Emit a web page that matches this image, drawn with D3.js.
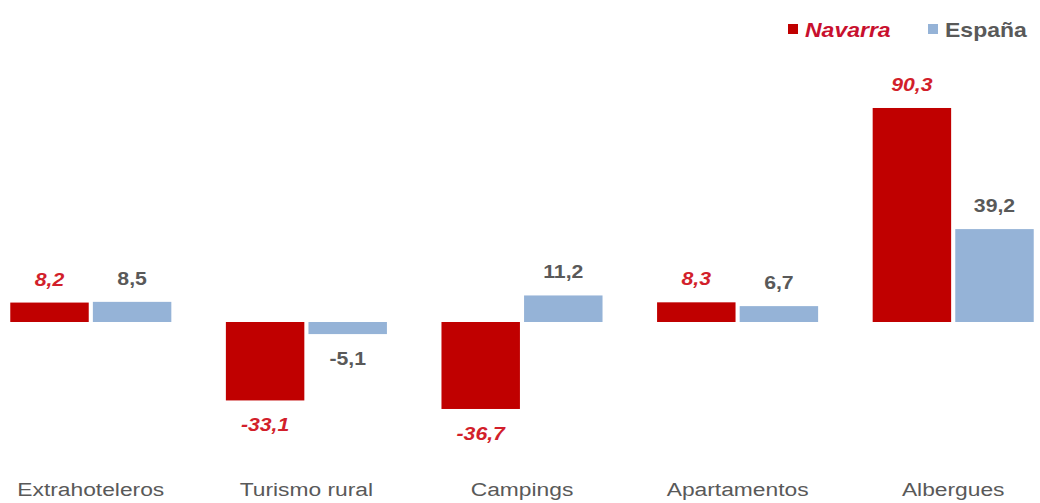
<!DOCTYPE html>
<html>
<head>
<meta charset="utf-8">
<script src="https://cdn.jsdelivr.net/npm/d3@7"></script>
<style>
  body { margin: 0; background: #fff; }
  svg { display: block; font-family: "Liberation Sans", Arial, sans-serif; }
</style>
</head>
<body>
<div id="chart"></div>
<script>
const categories = ['Extrahoteleros', 'Turismo rural', 'Campings', 'Apartamentos', 'Albergues'];
const series = ['Navarra', 'España'];
const navarra = [8.2, -33.1, -36.7, 8.3, 90.3];
const espana = [8.5, -5.1, 11.2, 6.7, 39.2];

const colors = { 'Navarra': '#c00000', 'España': '#95b3d7' };
const labelColors = { 'Navarra': '#d21f2b', 'España': '#595959' };

const width = 1040, height = 503;
const stretch = 1.18; // text in the source looks horizontally stretched

const svg = d3.select('#chart')
    .append('svg')
    .attr('width', width)
    .attr('height', height);

const rows = categories.map((c, i) => ({
    category: c,
    values: [
        { key: 'Navarra', value: navarra[i] },
        { key: 'España', value: espana[i] }
    ]
}));

const x0 = d3.scaleBand()
    .domain(categories)
    .range([-17, 1061])
    .paddingInner(0.253)
    .paddingOuter(0.1265);

const x1 = d3.scaleBand()
    .domain(series)
    .range([0, x0.bandwidth()])
    .paddingInner(0.05);

// zero line sits at y = 322
const y = d3.scaleLinear()
    .domain([-40, 100])
    .range([322 + 40 * 2.37, 322 - 100 * 2.37]);

// spanish decimal comma, plain hyphen for negatives
const fmt = v => d3.format('.1f')(v).replace('.', ',').replace('\u2212', '-');

const groups = svg.selectAll('g.group')
    .data(rows)
    .enter()
    .append('g')
    .attr('class', 'group')
    .attr('transform', d => `translate(${x0(d.category)},0)`);

groups.selectAll('rect')
    .data(d => d.values)
    .enter()
    .append('rect')
    .attr('x', d => x1(d.key))
    .attr('width', x1.bandwidth())
    .attr('y', d => y(Math.max(0, d.value)))
    .attr('height', d => Math.abs(y(d.value) - y(0)))
    .attr('fill', d => colors[d.key]);

// value labels
groups.selectAll('text.value')
    .data(d => d.values)
    .enter()
    .append('text')
    .attr('class', 'value')
    .attr('text-anchor', 'middle')
    .attr('transform', d => {
        const cx = x1(d.key) + x1.bandwidth() / 2;
        const cy = d.value >= 0 ? y(d.value) - 17 : y(d.value) + 31;
        return `translate(${cx},${cy}) scale(${stretch},1)`;
    })
    .attr('font-size', '18px')
    .attr('font-weight', 'bold')
    .attr('font-style', d => d.key === 'Navarra' ? 'italic' : 'normal')
    .attr('fill', d => labelColors[d.key])
    .text(d => fmt(d.value));

// category labels
svg.selectAll('text.cat')
    .data(categories)
    .enter()
    .append('text')
    .attr('class', 'cat')
    .attr('text-anchor', 'middle')
    .attr('transform', d => `translate(${x0(d) + x0.bandwidth() / 2},496) scale(1.2,1)`)
    .attr('font-size', '19px')
    .attr('fill', '#595959')
    .text(d => d);

// legend
const legend = svg.append('g').attr('class', 'legend');
const legendItems = [
    { key: 'Navarra', x: 788 },
    { key: 'España', x: 928 }
];
legendItems.forEach(item => {
    legend.append('rect')
        .attr('x', item.x)
        .attr('y', 24)
        .attr('width', 10)
        .attr('height', 10)
        .attr('fill', colors[item.key]);
    legend.append('text')
        .attr('transform', `translate(${item.x + 17},37) scale(1.15,1)`)
        .attr('font-size', '20px')
        .attr('font-weight', 'bold')
        .attr('font-style', item.key === 'Navarra' ? 'italic' : 'normal')
        .attr('fill', item.key === 'Navarra' ? '#c8102e' : '#595959')
        .text(item.key);
});
</script>
</body>
</html>
